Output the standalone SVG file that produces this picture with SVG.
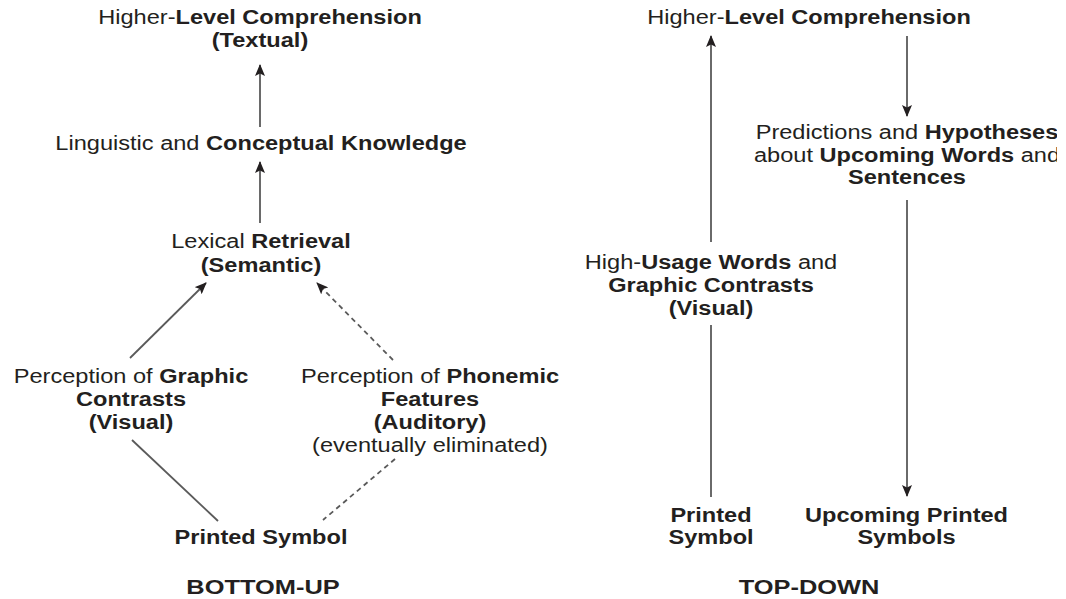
<svg xmlns="http://www.w3.org/2000/svg" width="1066" height="599" viewBox="0 0 1066 599">
  <style>
    text { font-family: "Liberation Sans", Arial, Helvetica, sans-serif; font-size: 19.5px; fill: #231f20; text-anchor: middle; }
    .b { font-weight: bold; }
    .title { font-size: 21px; font-weight: bold; }
    .link { fill: none; stroke: #5a5a5a; stroke-width: 1.8; }
    .dash { stroke-dasharray: 5 4; }
  </style>
  <defs>
    <marker id="head" viewBox="0 0 12 10" refX="11" refY="5" markerWidth="12" markerHeight="10" markerUnits="userSpaceOnUse" orient="auto">
      <path d="M0,0 L12,5 L0,10 L2.5,5 z" fill="#231f20"/>
    </marker>
    <clipPath id="edge">
      <rect x="0" y="0" width="1057" height="599"/>
    </clipPath>
  </defs>
  <rect width="1066" height="599" fill="#ffffff"/>

  <!-- connectors -->
  <g id="connectors">
    <!-- bottom-up -->
    <line class="link" x1="260" y1="127" x2="260" y2="65" marker-end="url(#head)"/>
    <line class="link" x1="260" y1="223" x2="260" y2="162" marker-end="url(#head)"/>
    <line class="link" x1="130" y1="358" x2="206" y2="283" marker-end="url(#head)"/>
    <line class="link dash" x1="393" y1="360" x2="317" y2="283" marker-end="url(#head)"/>
    <line class="link" x1="132" y1="440" x2="218" y2="521"/>
    <line class="link dash" x1="395" y1="459" x2="323" y2="520"/>
    <!-- top-down -->
    <line class="link" x1="711" y1="242" x2="711" y2="36" marker-end="url(#head)"/>
    <line class="link" x1="711" y1="325" x2="711" y2="497"/>
    <line class="link" x1="907" y1="36" x2="907" y2="116" marker-end="url(#head)"/>
    <line class="link" x1="907" y1="200" x2="907" y2="496" marker-end="url(#head)"/>
  </g>

  <!-- bottom-up nodes -->
  <g id="bu-comprehension" transform="translate(260,0) scale(1.21,1)">
    <text y="24">Higher-<tspan class="b">Level Comprehension</tspan></text>
    <text y="47" class="b">(Textual)</text>
  </g>
  <g id="bu-knowledge" transform="translate(261,0) scale(1.21,1)">
    <text y="150">Linguistic and <tspan class="b">Conceptual Knowledge</tspan></text>
  </g>
  <g id="bu-lexical" transform="translate(261,0) scale(1.21,1)">
    <text y="248">Lexical <tspan class="b">Retrieval</tspan></text>
    <text y="272" class="b">(Semantic)</text>
  </g>
  <g id="bu-graphic" transform="translate(131,0) scale(1.21,1)">
    <text y="383">Perception of <tspan class="b">Graphic</tspan></text>
    <text y="406" class="b">Contrasts</text>
    <text y="429" class="b">(Visual)</text>
  </g>
  <g id="bu-phonemic" transform="translate(430,0) scale(1.21,1)">
    <text y="383">Perception of <tspan class="b">Phonemic</tspan></text>
    <text y="406" class="b">Features</text>
    <text y="429" class="b">(Auditory)</text>
    <text y="452">(eventually eliminated)</text>
  </g>
  <g id="bu-printed" transform="translate(261,0) scale(1.21,1)">
    <text y="544" class="b">Printed Symbol</text>
  </g>
  <g id="bu-title" transform="translate(263,0) scale(1.21,1)">
    <text y="594" class="title">BOTTOM-UP</text>
  </g>

  <!-- top-down nodes -->
  <g id="td-comprehension" transform="translate(809,0) scale(1.21,1)">
    <text y="24">Higher-<tspan class="b">Level Comprehension</tspan></text>
  </g>
  <g id="td-predictions" clip-path="url(#edge)">
    <g transform="translate(907,0) scale(1.21,1)">
      <text y="139">Predictions and <tspan class="b">Hypotheses</tspan></text>
      <text y="162">about <tspan class="b">Upcoming Words</tspan> and</text>
      <text y="184" class="b">Sentences</text>
    </g>
  </g>
  <g id="td-highusage" transform="translate(711,0) scale(1.21,1)">
    <text y="269">High-<tspan class="b">Usage Words</tspan> and</text>
    <text y="292" class="b">Graphic Contrasts</text>
    <text y="315" class="b">(Visual)</text>
  </g>
  <g id="td-printed" transform="translate(711,0) scale(1.21,1)">
    <text y="522" class="b">Printed</text>
    <text y="544" class="b">Symbol</text>
  </g>
  <g id="td-upcoming" transform="translate(906.5,0) scale(1.21,1)">
    <text y="522" class="b">Upcoming Printed</text>
    <text y="544" class="b">Symbols</text>
  </g>
  <g id="td-title" transform="translate(809,0) scale(1.21,1)">
    <text y="594" class="title">TOP-DOWN</text>
  </g>
</svg>
